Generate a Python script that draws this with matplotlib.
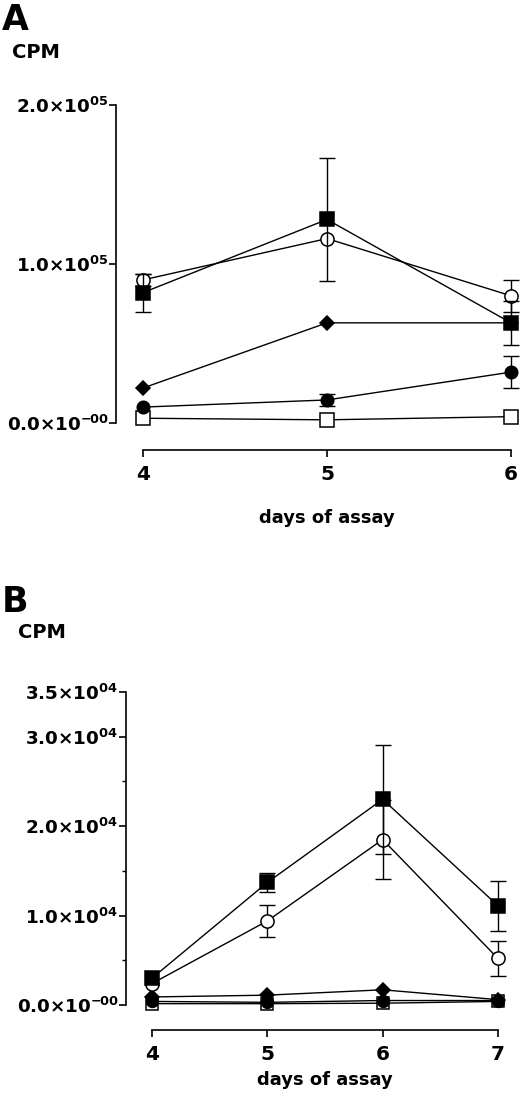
import matplotlib
matplotlib.use("Agg")
import matplotlib.pyplot as plt
from matplotlib.ticker import FixedLocator

# ---------------- data ----------------
days_a = [4, 5, 6]
filled_sq_a = [82000, 128000, 63000]
filled_sq_a_err = [12000, 38500, 14000]
open_circ_a = [90000, 116000, 80000]
open_circ_a_err = [4000, 0, 10000]
diamond_a = [22000, 63000, 63000]
filled_circ_a = [10000, 14500, 32000]
filled_circ_a_err = [0, 4000, 10000]
open_sq_a = [3000, 2000, 4000]

yticks_a = [0, 100000, 200000]
ytick_labels_a = [r"$\mathbf{0.0{\times}10^{-\!00}}$",
                  r"$\mathbf{1.0{\times}10^{05}}$",
                  r"$\mathbf{2.0{\times}10^{05}}$"]

days_b = [4, 5, 6, 7]
filled_sq_b = [3000, 13700, 23000, 11100]
filled_sq_b_err = [0, 1100, 6100, 2800]
open_circ_b = [2400, 9400, 18500, 5200]
open_circ_b_err = [0, 1800, 4400, 2000]
diamond_b = [900, 1100, 1700, 600]
filled_circ_b = [400, 300, 500, 500]
open_sq_b = [150, 150, 200, 400]

yticks_b = [0, 10000, 20000, 30000, 35000]
yminor_b = [5000, 15000, 25000]
ytick_labels_b = [r"$\mathbf{0.0{\times}10^{-\!00}}$",
                  r"$\mathbf{1.0{\times}10^{04}}$",
                  r"$\mathbf{2.0{\times}10^{04}}$",
                  r"$\mathbf{3.0{\times}10^{04}}$",
                  r"$\mathbf{3.5{\times}10^{04}}$"]

# ---------------- style ----------------
plt.rcParams["font.family"] = ["DejaVu Sans"]
plt.rcParams["mathtext.fontset"] = "dejavusans"

W, H = 520, 1099
fig = plt.figure(figsize=(W / 100, H / 100), dpi=100)


def px_axes(left, top, right, bottom):
    return fig.add_axes([left / W, 1 - bottom / H, (right - left) / W, (bottom - top) / H])


def style_axes(ax, xmin, xmax, days, ymax, out_pts, ylab_size):
    for s in ["top", "right"]:
        ax.spines[s].set_visible(False)
    ax.spines["left"].set_linewidth(1.2)
    ax.spines["bottom"].set_linewidth(1.2)
    ax.spines["bottom"].set_position(("outward", out_pts))
    ax.spines["bottom"].set_bounds(days[0], days[-1])
    ax.spines["left"].set_bounds(0, ymax)
    ax.set_xticks(days)
    ax.set_xticklabels([str(d) for d in days], fontsize=14.5, fontweight="bold")
    ax.tick_params(axis="x", direction="out", length=5, width=1.2, pad=6)
    ax.tick_params(axis="y", which="major", direction="out", length=5, width=1.2, pad=0.5,
                   labelsize=ylab_size)
    ax.tick_params(axis="y", which="minor", direction="out", length=3, width=1.0)
    ax.set_xlim(xmin, xmax)
    ax.set_ylim(0, ymax)
    ax.patch.set_visible(False)


def plot_series(ax, days, vals, marker, face, ms, err=None, z=3):
    ax.plot(days, vals, color="black", lw=1.0, marker=marker, markersize=ms,
            markerfacecolor=face, markeredgecolor="black", markeredgewidth=1.1,
            clip_on=False, zorder=z)
    if err is not None:
        xs = [d for d, e in zip(days, err) if e > 0]
        ys = [v for v, e in zip(vals, err) if e > 0]
        es = [e for e in err if e > 0]
        ax.errorbar(xs, ys, yerr=es, fmt="none", ecolor="black", elinewidth=1.0,
                    capsize=5.5, capthick=1.0, clip_on=False, zorder=z - 0.5)


# ---------------- Panel A ----------------
axA = px_axes(116, 105, 520, 423)
style_axes(axA, 4 - 27 / 184, 6 + 9 / 184, days_a, 200000, 27 * 0.72, 13.2)
axA.yaxis.set_major_locator(FixedLocator(yticks_a))
axA.set_yticklabels(ytick_labels_a)

plot_series(axA, days_a, open_sq_a, "s", "white", 9.5, z=3)
plot_series(axA, days_a, filled_circ_a, "o", "black", 9, filled_circ_a_err, z=4)
plot_series(axA, days_a, diamond_a, "D", "black", 7, z=5)
plot_series(axA, days_a, open_circ_a, "o", "white", 9.5, open_circ_a_err, z=6)
plot_series(axA, days_a, filled_sq_a, "s", "black", 9.5, filled_sq_a_err, z=7)

axA.set_xlabel("days of assay", fontsize=13, fontweight="bold", va="center")
axA.xaxis.set_label_coords((327 - 116) / 404, (423 - 518) / 318)

fig.text(2 / W, 1 - 30 / H, "A", fontsize=25, fontweight="bold", va="baseline", ha="left")
fig.text(12 / W, 1 - 53 / H, "CPM", fontsize=14, fontweight="bold", va="center", ha="left")

# ---------------- Panel B ----------------
axB = px_axes(126, 692, 520, 1005)
style_axes(axB, 4 - 26 / 115.3, 7 + 22 / 115.3, days_b, 35000, 25 * 0.72, 13.2)
axB.yaxis.set_major_locator(FixedLocator(yticks_b))
axB.yaxis.set_minor_locator(FixedLocator(yminor_b))
axB.set_yticklabels(ytick_labels_b)

plot_series(axB, days_b, open_sq_b, "s", "white", 9, z=3)
plot_series(axB, days_b, filled_circ_b, "o", "black", 8.5, z=4)
plot_series(axB, days_b, diamond_b, "D", "black", 7, z=5)
plot_series(axB, days_b, open_circ_b, "o", "white", 9.5, open_circ_b_err, z=6)
plot_series(axB, days_b, filled_sq_b, "s", "black", 9.5, filled_sq_b_err, z=7)

axB.set_xlabel("days of assay", fontsize=13, fontweight="bold", va="center")
axB.xaxis.set_label_coords((325 - 126) / 394, (1005 - 1080) / 313)

fig.text(2 / W, 1 - 612 / H, "B", fontsize=25, fontweight="bold", va="baseline", ha="left")
fig.text(18 / W, 1 - 632 / H, "CPM", fontsize=14, fontweight="bold", va="center", ha="left")

fig.savefig("out.png", dpi=100, facecolor="white")
